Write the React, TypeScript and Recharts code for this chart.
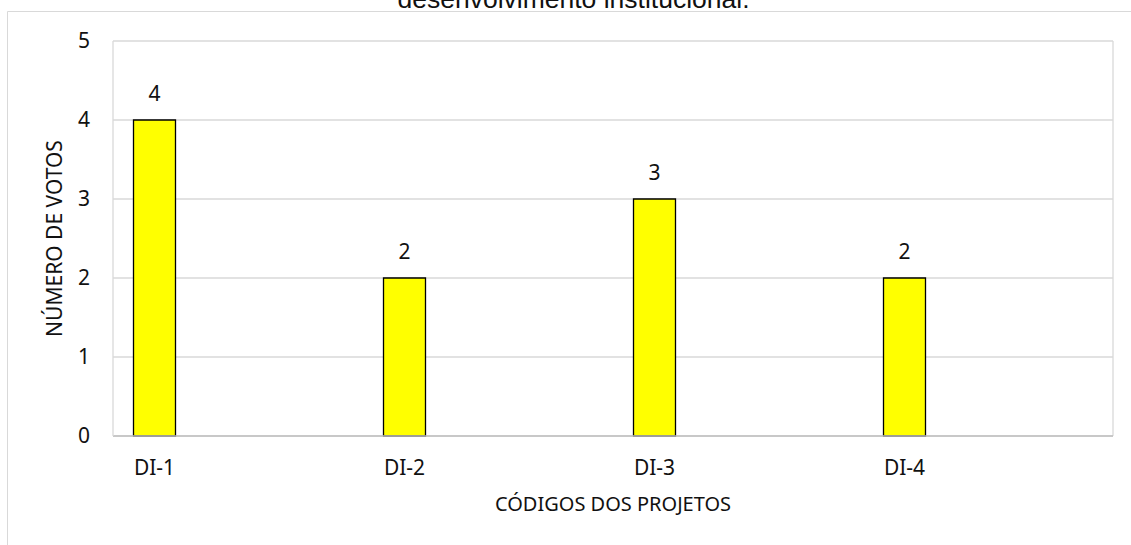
import React from "react"
import { BarChart, Bar, XAxis, YAxis, CartesianGrid, LabelList, ReferenceLine } from "recharts"

const codigos = ["DI-1", "DI-2", "DI-3", "DI-4"]
const votos = [4, 2, 3, 2]
const yTicks = [0, 1, 2, 3, 4, 5]

const rows = codigos.map((codigo, i) => ({ pos: i, codigo, votos: votos[i] }))

// categories sit on the left part of equal-width slots
const xMin = -0.166
const xMax = 3.834

const font = "'Noto Sans', 'Open Sans', sans-serif"
const gridColor = "#d9d9d9"
const ink = "#111"

export default function App() {
  return (
    <div style={{ position: "absolute", left: 0, top: 0, width: 1131, height: 545, overflow: "hidden", background: "#fff" }}>
      <svg width={1131} height={545} style={{ position: "absolute", left: 0, top: 0 }}>
        <path d="M7.5 545 L7.5 11.5 L1131 11.5" fill="none" stroke={gridColor} strokeWidth={1} />
        <text x={573.5} y={7.5} textAnchor="middle" fontFamily="'Liberation Sans', Arial, sans-serif" fontSize={26.5} fill={ink}>
          desenvolvimento institucional.
        </text>
      </svg>
      <div style={{ position: "absolute", left: 0, top: 0 }}>
        <BarChart width={1131} height={545} data={rows} margin={{ top: 41, right: 18, bottom: 49, left: 53 }}>
          <CartesianGrid horizontal vertical={false} stroke={gridColor} strokeWidth={1.3} />
          <XAxis
            dataKey="pos"
            type="number"
            domain={[xMin, xMax]}
            ticks={[0, 1, 2, 3]}
            tickFormatter={(v: number) => codigos[v] ?? ""}
            height={60}
            tickLine={false}
            tickSize={0}
            tickMargin={24}
            axisLine={{ stroke: "#bfbfbf", strokeWidth: 1.5 }}
            tick={{ fill: ink, fontSize: 21, fontFamily: font }}
            label={{ value: "CÓDIGOS DOS PROJETOS", position: "bottom", offset: 1, fill: ink, fontSize: 20, fontFamily: font }}
          />
          <YAxis
            domain={[0, 5]}
            ticks={yTicks}
            width={60}
            tickLine={false}
            tickSize={0}
            tickMargin={23}
            axisLine={{ stroke: gridColor, strokeWidth: 1.3 }}
            tick={{ fill: ink, fontSize: 21, fontFamily: font }}
            label={{
              value: "NÚMERO DE VOTOS",
              angle: -90,
              position: "insideLeft",
              offset: 2,
              style: { textAnchor: "middle" },
              fill: ink,
              fontSize: 21,
              fontFamily: font,
            }}
          />
          <ReferenceLine x={xMax} stroke={gridColor} strokeWidth={1.3} />
          <Bar dataKey="votos" fill="#ffff00" stroke="#000" strokeWidth={1.3} barSize={42} isAnimationActive={false}>
            <LabelList dataKey="votos" position="top" offset={19} fill={ink} fontSize={21} fontFamily={font} />
          </Bar>
        </BarChart>
      </div>
    </div>
  )
}
